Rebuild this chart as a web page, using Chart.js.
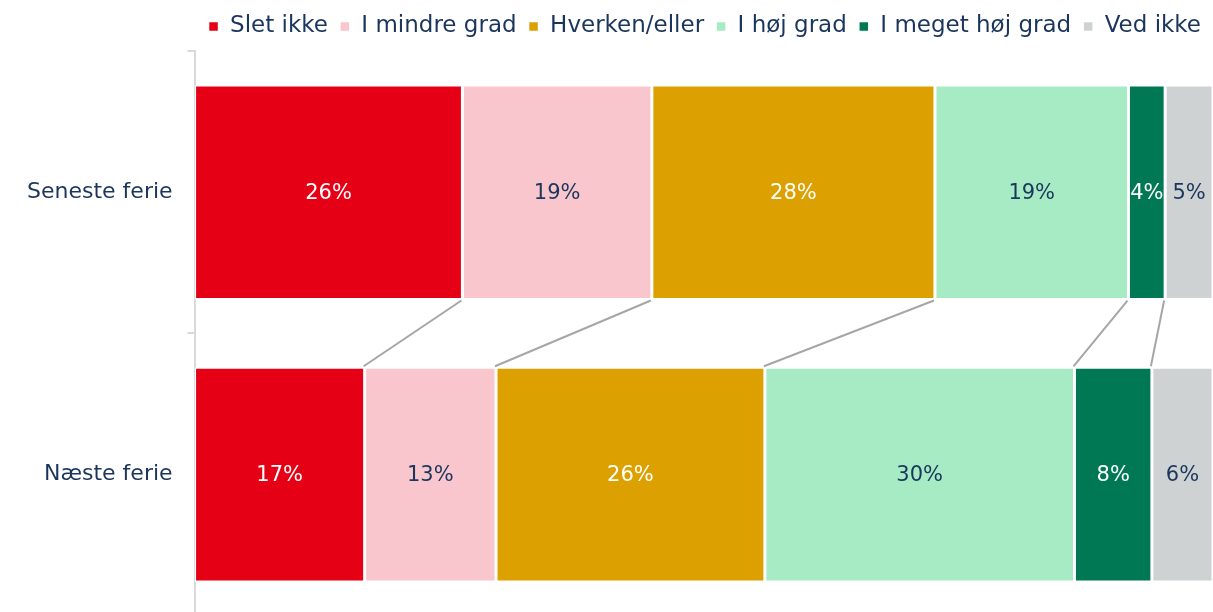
<!DOCTYPE html>
<html>
<head>
<meta charset="utf-8">
<script src="https://cdn.jsdelivr.net/npm/chart.js@4/dist/chart.umd.min.js"></script>
<style>
  html, body { margin: 0; padding: 0; background: #fff; overflow: hidden; }
  #wrap { width: 1213px; height: 644px; position: relative; }
</style>
</head>
<body>
<div id="wrap"><canvas id="chart"></canvas></div>
<script>
// categories and series (percent of respondents)
const categories = ['Seneste ferie', 'Næste ferie'];
const seriesNames = ['Slet ikke', 'I mindre grad', 'Hverken/eller', 'I høj grad', 'I meget høj grad', 'Ved ikke'];
const sletIkke = [26.3, 16.7];
const iMindreGrad = [18.6, 12.9];
const hverkenEller = [27.8, 26.4];
const iHoejGrad = [19.0, 30.4];
const iMegetHoejGrad = [3.6, 7.6];
const vedIkke = [4.7, 6.0];

const seriesValues = [sletIkke, iMindreGrad, hverkenEller, iHoejGrad, iMegetHoejGrad, vedIkke];
const colors = ['#E60016', '#F9C6CE', '#DCA100', '#A6EBC4', '#007853', '#CFD2D3'];
const labelColors = ['#ffffff', '#1B365D', '#ffffff', '#1B365D', '#ffffff', '#1B365D'];

const navy = '#1B365D';
const fontFamily = '"DejaVu Sans", sans-serif';

// draws the % value in the middle of each segment
const valueLabels = {
    id: 'valueLabels',
    afterDatasetsDraw(chart) {
        const ctx = chart.ctx;
        ctx.save();
        ctx.font = '21px ' + fontFamily;
        ctx.textAlign = 'center';
        ctx.textBaseline = 'middle';
        chart.data.datasets.forEach((ds, i) => {
            const meta = chart.getDatasetMeta(i);
            meta.data.forEach((bar, j) => {
                const c = bar.getCenterPoint();
                ctx.fillStyle = labelColors[i];
                ctx.fillText(Math.round(ds.data[j]) + '%', c.x, c.y + 1);
            });
        });
        ctx.restore();
    }
};

// grey lines joining the segment borders of the two bars
const seriesLines = {
    id: 'seriesLines',
    afterDatasetsDraw(chart) {
        const ctx = chart.ctx;
        ctx.save();
        ctx.strokeStyle = '#A6A6A6';
        ctx.lineWidth = 2;
        for (let i = 0; i < chart.data.datasets.length - 1; i++) {
            const meta = chart.getDatasetMeta(i);
            const top = meta.data[0];
            const bottom = meta.data[1];
            ctx.beginPath();
            ctx.moveTo(top.x - 1, top.y + top.height / 2 + 1);
            ctx.lineTo(bottom.x - 1, bottom.y - bottom.height / 2 - 1);
            ctx.stroke();
        }
        ctx.restore();
    }
};

// empty box under the legend, so the bars start a bit lower
const legendGap = {
    id: 'legendGap',
    beforeInit(chart) {
        Chart.layouts.addBox(chart, {
            position: 'top',
            weight: 500,
            fullSize: true,
            options: {},
            isHorizontal() { return true; },
            update(maxWidth) { this.width = maxWidth; this.height = 3; },
            draw() {}
        });
    }
};

const ctx = document.getElementById('chart').getContext('2d');
new Chart(ctx, {
    type: 'bar',
    data: {
        labels: categories,
        datasets: seriesNames.map((name, i) => ({
            label: name,
            data: seriesValues[i],
            backgroundColor: colors[i],
            borderColor: '#ffffff',
            borderWidth: 1.5,
            borderSkipped: false,
            categoryPercentage: 1,
            barPercentage: 0.76
        }))
    },
    options: {
        indexAxis: 'y',
        responsive: true,
        maintainAspectRatio: false,
        animation: false,
        layout: { padding: { left: 12, right: 0, top: 3, bottom: 0 } },
        scales: {
            x: {
                stacked: true,
                min: 0,
                max: 100,
                display: false
            },
            y: {
                stacked: true,
                border: { display: true, color: '#D9D9D9', width: 2 },
                grid: { display: true, drawOnChartArea: false, drawTicks: true, tickLength: 7, color: '#D9D9D9', lineWidth: 2 },
                ticks: { color: navy, font: { family: fontFamily, size: 22 }, padding: 15 }
            }
        },
        plugins: {
            legend: {
                position: 'top',
                align: 'end',
                labels: {
                    color: navy,
                    font: { family: fontFamily, size: 23 },
                    boxWidth: 10,
                    boxHeight: 10,
                    padding: 12
                }
            },
            tooltip: { enabled: false }
        }
    },
    plugins: [legendGap, seriesLines, valueLabels]
});
</script>
</body>
</html>
